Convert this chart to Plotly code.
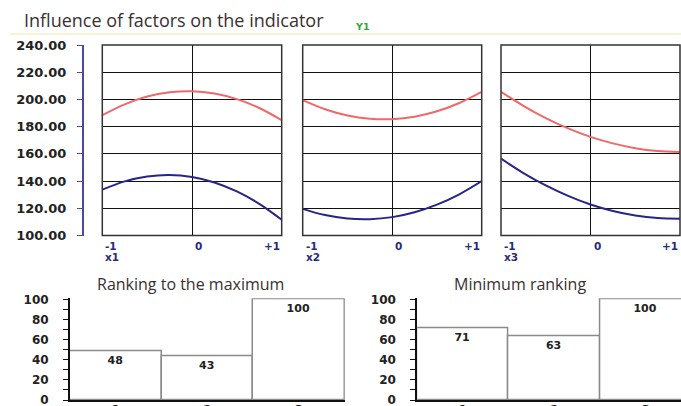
import plotly.graph_objects as go

W, H = 681, 406

# ---- data ----
factor_x = [-1, -0.75, -0.5, -0.25, 0, 0.25, 0.5, 0.75, 1]
factor_names = ["x1", "x2", "x3"]
x_tick_labels = ["-1", "0", "+1"]

red_x1 = [188.4, 196.4, 202.1, 205.2, 206.0, 204.3, 200.2, 193.7, 184.7]
blue_x1 = [133.7, 139.8, 143.4, 144.5, 143.0, 139.0, 132.4, 123.3, 111.6]
red_x2 = [199.5, 192.8, 188.2, 185.8, 185.5, 187.3, 191.3, 197.4, 205.6]
blue_x2 = [119.6, 115.0, 112.5, 112.0, 113.5, 117.1, 122.7, 130.3, 140.0]
red_x3 = [205.6, 195.3, 186.3, 178.7, 172.5, 167.7, 164.2, 162.1, 161.4]
blue_x3 = [156.5, 145.9, 136.8, 129.1, 122.8, 118.0, 114.7, 112.8, 112.3]

y_ticks = [100, 120, 140, 160, 180, 200, 220, 240]

rank_categories = [1, 2, 3]
rank_labels = ["1", "2", "3"]
max_ranking = [48, 43, 100]
min_ranking = [71, 63, 100]
rank_ticks = [0, 20, 40, 60, 80, 100]

title_main = "Influence of factors on the indicator"
title_max = "Ranking to the maximum"
title_min = "Minimum ranking"
series_label = "Y1"

# ---- helpers ----
def px(x):
    return x / W

def py(y):
    return (H - y) / H

RED = "#f06868"
BLUE = "#25258a"
NAVY_TXT = "#2a2a7a"
GRID = "#111111"
BOLD = dict(family="DejaVu Sans", size=12, color="#222222", weight="bold")

fig = go.Figure()

panels = [(red_x1, blue_x1), (red_x2, blue_x2), (red_x3, blue_x3)]
panel_dom = [(102.3, 281.7), (302.7, 481.7), (501.0, 680.0)]
top_dom = [py(235.5), py(45)]

for i, (r, b) in enumerate(panels):
    xa = "x" if i == 0 else f"x{i+1}"
    ya = "y" if i == 0 else f"y{i+1}"
    fig.add_trace(go.Scatter(x=factor_x, y=r, mode="lines", line=dict(color=RED, width=2, shape="spline"),
                             xaxis=xa, yaxis=ya, showlegend=False, hoverinfo="skip"))
    fig.add_trace(go.Scatter(x=factor_x, y=b, mode="lines", line=dict(color=BLUE, width=2, shape="spline"),
                             xaxis=xa, yaxis=ya, showlegend=False, hoverinfo="skip"))

for k, vals in zip([4, 5], [max_ranking, min_ranking]):
    fig.add_trace(go.Bar(x=rank_categories, y=vals, width=1, xaxis=f"x{k}", yaxis=f"y{k}",
                         marker=dict(color="white", line=dict(color="#8a8a8a", width=1.5)),
                         text=[str(v) for v in vals], textposition="inside", insidetextanchor="end",
                         textangle=0, textfont=dict(family="DejaVu Sans", size=11, color="#222", weight="bold"),
                         showlegend=False, hoverinfo="skip"))

layout = dict(
    width=W, height=H, margin=dict(l=0, r=0, t=0, b=0, autoexpand=False),
    paper_bgcolor="white", plot_bgcolor="white", showlegend=False,
    bargap=0,
)

for i, (a, b) in enumerate(panel_dom):
    xk = "xaxis" if i == 0 else f"xaxis{i+1}"
    yk = "yaxis" if i == 0 else f"yaxis{i+1}"
    ya = "y" if i == 0 else f"y{i+1}"
    xa = "x" if i == 0 else f"x{i+1}"
    layout[xk] = dict(domain=[px(a), px(b)], range=[-1, 1], anchor=ya, tickvals=[0],
                      showgrid=True, gridcolor=GRID, gridwidth=1, showticklabels=False,
                      zeroline=False, showline=False, ticks="", automargin=False)
    yax = dict(domain=top_dom, range=[100, 240], tickvals=y_ticks, showgrid=True,
               gridcolor=GRID, gridwidth=1, zeroline=False, automargin=False)
    if i == 0:
        yax.update(anchor="free", position=px(82.7), showline=True, linecolor="#4a4a9a", linewidth=1.5,
                   ticks="outside", ticklen=5, tickcolor="#4a4a9a", tickwidth=1.2,
                   tickformat=".2f", tickfont=dict(family="DejaVu Sans", size=13, color="#222", weight="bold"),
                   ticklabelstandoff=8, ticklabeloverflow="allow")
    else:
        yax.update(anchor=xa, showticklabels=False, showline=False, ticks="")
    layout[yk] = yax

bot_dom = [py(400), py(298.3)]
for k, (ax0, rng_hi) in zip([4, 5], [(70.0, 3.5), (417.3, 3.385)]):
    xd1 = 344.8 if k == 4 else W
    layout[f"xaxis{k}"] = dict(domain=[px(ax0), px(xd1)], range=[0.5, rng_hi], anchor=f"y{k}",
                               tickvals=rank_categories, ticktext=rank_labels, showgrid=False,
                               zeroline=False, showline=True, linecolor="#111", linewidth=1.5,
                               ticks="", tickfont=BOLD, automargin=False, ticklabelstandoff=-2,
                               ticklabeloverflow="allow")
    layout[f"yaxis{k}"] = dict(domain=bot_dom, range=[0, 101], anchor=f"x{k}", tickvals=rank_ticks,
                               showgrid=False, zeroline=False, showline=True, linecolor="#111", linewidth=2,
                               ticks="outside", ticklen=5, tickcolor="#111", tickwidth=1.2,
                               minor=dict(dtick=10, ticks="outside", ticklen=5, tickcolor="#111", tickwidth=1.2),
                               tickfont=BOLD, ticklabelstandoff=12, automargin=False,
                               ticklabeloverflow="allow")

fig.update_layout(**layout)

# panel borders and header rule
shapes = [dict(type="line", xref="paper", yref="paper", x0=px(10), x1=1, y0=py(34), y1=py(34),
               line=dict(color="#f7f2d6", width=2))]
for i in range(3):
    xa = "x" if i == 0 else f"x{i+1}"
    ya = "y" if i == 0 else f"y{i+1}"
    shapes.append(dict(type="rect", xref=f"{xa} domain", yref=f"{ya} domain", x0=0, x1=1, y0=0, y1=1,
                       line=dict(color="#333", width=1.5), fillcolor="rgba(0,0,0,0)", layer="above"))
fig.update_layout(shapes=shapes)

ann = []
ann.append(dict(text=title_main, x=px(174), y=py(20), xref="paper", yref="paper", showarrow=False,
                font=dict(family="Open Sans", size=18, color="#3a3030"), xanchor="center", yanchor="middle"))
ann.append(dict(text=series_label, x=px(362), y=py(27), xref="paper", yref="paper", showarrow=False,
                font=dict(family="DejaVu Sans", size=9.5, color="#33aa33", weight="bold"), xanchor="center", yanchor="middle"))
ann.append(dict(text=title_max, x=px(190), y=py(284), xref="paper", yref="paper", showarrow=False,
                font=dict(family="Open Sans", size=16, color="#3a3030"), xanchor="center", yanchor="middle"))
ann.append(dict(text=title_min, x=px(520), y=py(284), xref="paper", yref="paper", showarrow=False,
                font=dict(family="Open Sans", size=16, color="#3a3030"), xanchor="center", yanchor="middle"))

lab_font = dict(family="DejaVu Sans", size=10.5, color=NAVY_TXT, weight="bold")
for i in range(3):
    xa = "x" if i == 0 else f"x{i+1}"
    for xv, txt, anc in zip([-1, 0, 1], x_tick_labels, ["left", "left", "right"]):
        ann.append(dict(text=txt, x=xv, y=py(246), xref=xa, yref="paper", showarrow=False,
                        xanchor=anc, yanchor="middle", font=lab_font, xshift=(1 if anc == "left" else 0)))
    ann.append(dict(text=factor_names[i], x=-1, y=py(257), xref=xa, yref="paper", showarrow=False,
                    xanchor="left", yanchor="middle", font=lab_font, xshift=1))
fig.update_layout(annotations=ann)

fig.write_html("out.html", config={"displayModeBar": False},
               post_script="document.body.style.margin='0';document.body.style.overflow='hidden';")
